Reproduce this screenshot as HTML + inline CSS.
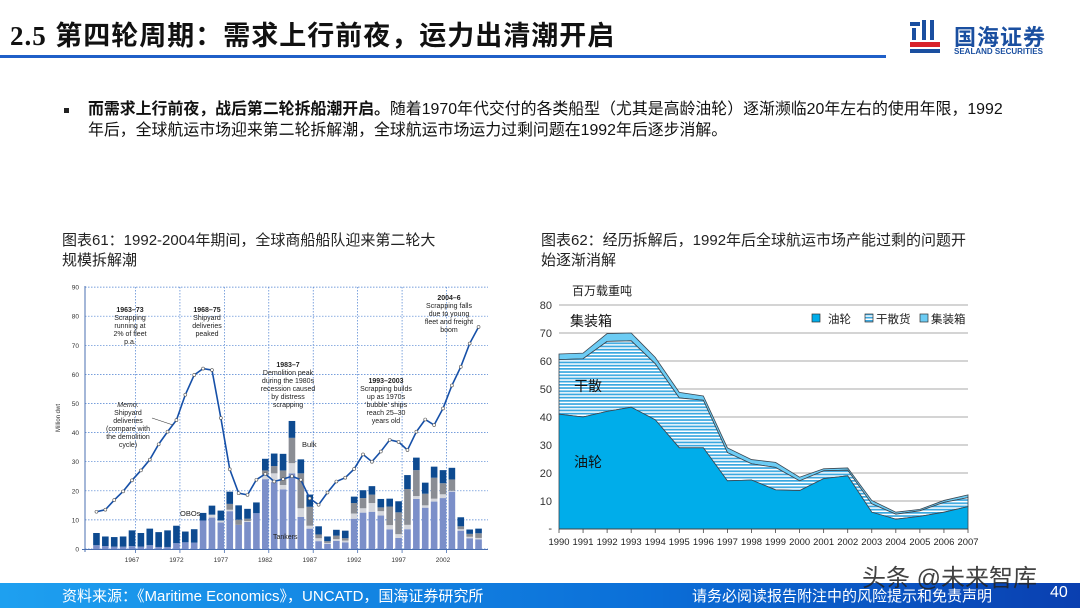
<!DOCTYPE html>
<html><head><meta charset="utf-8">
<style>
body{margin:0;width:1080px;height:608px;overflow:hidden;background:#fff;position:relative;font-family:"Liberation Sans","Noto Sans CJK SC",sans-serif;}
.abs{position:absolute;}
</style></head>
<body>
<div class="abs" style="left:10px;top:14px;font-size:27px;font-weight:bold;color:#111;white-space:nowrap;letter-spacing:1px"><span style="font-family:'Liberation Serif',serif">2.5</span> 第四轮周期：需求上行前夜，运力出清潮开启</div>
<div class="abs" style="left:0;top:55px;width:886px;height:3px;background:#1f5fc8"></div>
<div class="abs" style="left:908px;top:18px;width:160px;height:42px">
 <svg width="34" height="40" style="position:absolute;left:0;top:0">
  <rect x="2" y="4" width="10" height="4" fill="#1a4fa0"/><rect x="4" y="10" width="4" height="12" fill="#1a4fa0"/>
  <rect x="14" y="2" width="4" height="20" fill="#1a4fa0"/><rect x="22" y="2" width="4" height="20" fill="#1a4fa0"/>
  <rect x="2" y="24" width="30" height="5" fill="#d8232a"/><rect x="2" y="31" width="30" height="4" fill="#1a4fa0"/>
 </svg>
 <div class="abs" style="left:46px;top:2px;font-size:22px;font-weight:bold;color:#1a4fa0;letter-spacing:1px">国海证券</div>
 <div class="abs" style="left:46px;top:29px;font-size:8px;font-weight:bold;color:#1a4fa0">SEALAND SECURITIES</div>
</div>

<div class="abs" style="left:64px;top:108px;width:5px;height:5px;background:#222"></div>
<div class="abs" style="left:88px;top:99px;width:990px;font-size:15.9px;line-height:21px;color:#111;white-space:nowrap"><b>而需求上行前夜，战后第二轮拆船潮开启。</b>随着1970年代交付的各类船型（尤其是高龄油轮）逐渐濒临20年左右的使用年限，1992<br>年后，全球航运市场迎来第二轮拆解潮，全球航运市场运力过剩问题在1992年后逐步消解。</div>

<div class="abs" style="left:62px;top:231px;width:420px;font-size:15px;line-height:20px;color:#222">图表61：1992-2004年期间，全球商船船队迎来第二轮大<br>规模拆解潮</div>
<div class="abs" style="left:541px;top:231px;width:470px;font-size:15px;line-height:20px;color:#222">图表62：经历拆解后，1992年后全球航运市场产能过剩的问题开<br>始逐渐消解</div>

<svg id="c1" class="abs" style="left:0;top:0" width="1080" height="608"></svg>

<div class="abs" style="left:0;top:583px;width:1080px;height:25px;background:linear-gradient(90deg,#1ea0f0,#0b6fd8 60%,#0a3fb0)"></div>
<div class="abs" style="left:62px;top:585px;font-size:15px;color:#fff;white-space:nowrap">资料来源：《Maritime Economics》，UNCATD，国海证券研究所</div>
<div class="abs" style="left:692px;top:585px;font-size:15px;color:#fff;white-space:nowrap">请务必阅读报告附注中的风险提示和免责声明</div>
<div class="abs" style="left:1050px;top:584px;font-size:16px;color:#fff">40</div>
<div class="abs" style="left:862px;top:558px;font-size:24px;color:#222;opacity:.85;white-space:nowrap">头条 @未来智库</div>

<script>
// ---- chart 61 data ----
const years61=[1963,1964,1965,1966,1967,1968,1969,1970,1971,1972,1973,1974,1975,1976,1977,1978,1979,1980,1981,1982,1983,1984,1985,1986,1987,1988,1989,1990,1991,1992,1993,1994,1995,1996,1997,1998,1999,2000,2001,2002,2003,2004,2005,2006];
const tankers=[1.3,1,0.8,0.8,1,0.8,1.3,0.7,0.7,2,2.3,2.2,9.8,10.8,9.1,13,8.3,9.3,12.3,24,23,20.5,26,11,7,2.7,1.8,2.8,2.3,10.4,12.5,12.8,11.5,6.7,3.8,6.8,17.2,14.2,16.3,17.5,19.7,6.3,3.7,3.3];
const obos=[0,0,0,0,0,0,0,0,0,0,0,0,0,1,0.7,0.5,0,0.3,0,1.5,3,1.5,3.5,3,1,1,0.3,0.6,0.6,1.8,1.5,3,1.5,1.5,1.3,1.5,1,0.8,1,1.3,0.3,0.5,0.5,0.5];
const bulk=[0,0,0,0,0,0,0,0,0,0,0,0,0,0,0,2,1.8,0.8,0,1.5,2.5,5,8.7,12,6.5,1.3,0.6,1.2,0.8,3.6,3.5,2.9,1.3,6.4,7.5,12.3,8.9,4,7.2,3.8,3.9,1,1,1.6];
const other=[4.2,3.3,3.3,3.5,5.4,4.7,5.7,5.1,5.7,6,3.7,4.6,2.6,3.1,3.4,4.2,4.9,3.4,3.7,4,4.3,5.7,5.8,4.8,4.2,2.8,1.6,2,2.6,2.2,2.7,2.9,2.9,2.7,3.8,4.8,4.3,3.8,3.8,4.5,4,3.1,1.5,1.6];
const deliveries=[12.8,13.5,16.8,19.8,23.6,27,30.7,36,40.3,44.3,53,59.8,62,61.5,45,27.4,19.2,18.6,23.8,25.8,23.2,24,25,23.8,17.4,15.2,19.4,23.2,24.5,27.5,32.5,30,33.5,37.5,36.8,34,40.3,44.5,42.6,48.3,56.2,62.6,70.6,76.3];
const yTicks61=[0,10,20,30,40,50,60,70,80,90];
const xTicks61=[1967,1972,1977,1982,1987,1992,1997,2002];
// ---- chart 62 data ----
const years62=[1990,1991,1992,1993,1994,1995,1996,1997,1998,1999,2000,2001,2002,2003,2004,2005,2006,2007];
const tanker62=[41,40,42,43.5,39,29,29,17.2,17.5,14,13.7,18,19,6,3.5,4.5,6,8];
const drybulk62=[19.5,20.8,25,23.7,20,17.8,17,10.1,5.8,8,3.5,2.8,2,3,1.8,2,3.5,3.2];
const container62=[2,2,2.8,2.8,2.3,2,1.5,1.7,1.5,1.8,1.3,0.7,0.8,1.2,0.7,0.5,0.7,1];
const yTicks62=[10,20,30,40,50,60,70,80];

const NS='http://www.w3.org/2000/svg';
const svg=document.getElementById('c1');
function mk(tag,attrs,parent,text){const e=document.createElementNS(NS,tag);for(const k in attrs)e.setAttribute(k,attrs[k]);if(text!==undefined)e.textContent=text;(parent||svg).appendChild(e);return e;}

const defs=mk('defs',{});
const pat=mk('pattern',{id:'hatch',width:4,height:3.2,patternUnits:'userSpaceOnUse'},defs);
mk('rect',{width:4,height:3.2,fill:'#fff'},pat);
mk('rect',{y:0,width:4,height:1.7,fill:'#3aa8e0'},pat);

// ===== chart 61 =====
const x1=y=>132+(y-1967)*8.886;
const y1=v=>549-v*2.91;
const g1=mk('g',{});


yTicks61.forEach(t=>{
 const l=mk('line',{x1:85,x2:488,y1:y1(t),y2:y1(t),stroke:'#4a7fd0','stroke-width':0.7,'stroke-dasharray':'1.5,1.5'},g1);
 
 
 const tx=mk('text',{x:79,y:y1(t)+2.5,'font-size':6.5,'text-anchor':'end',fill:'#333'},g1,String(t));
 
 
});
xTicks61.forEach(t=>{
 const xx=x1(t)+3.5;
 const l=mk('line',{x1:xx,x2:xx,y1:287,y2:549,stroke:'#4a7fd0','stroke-width':0.7,'stroke-dasharray':'1.5,1.5'},g1);
 
 
 mk('line',{x1:xx,x2:xx,y1:549,y2:553,stroke:'#4a6fb0','stroke-width':0.8},g1);
 const tx=mk('text',{x:x1(t),y:562,'font-size':6.5,'text-anchor':'middle',fill:'#333'},g1,String(t));
 
 
});
mk('line',{x1:85,x2:85,y1:286,y2:552,stroke:'#4a6fb0','stroke-width':1},g1);
mk('line',{x1:82,x2:488,y1:549.5,y2:549.5,stroke:'#4a6fb0','stroke-width':1},g1);
const yl=mk('text',{x:60,y:418,'font-size':6,fill:'#333','text-anchor':'middle',transform:'rotate(-90 60 418)'},g1,'Million dwt');


const cols=['#7b8fc9','#d4d6dc','#8a8d94','#0d4a90'];
years61.forEach((yr,i)=>{
 let base=0;
 [tankers[i],obos[i],bulk[i],other[i]].forEach((v,k)=>{
  const r=mk('rect',{x:x1(yr)-3.3,y:y1(base+v),width:6.6,height:Math.max(0,y1(base)-y1(base+v)),fill:cols[k]},g1);
  
  
  base+=v;
 });
});
const pts=years61.map((yr,i)=>x1(yr)+','+y1(deliveries[i])).join(' ');
const pl=mk('polyline',{points:pts,fill:'none',stroke:'#1650a8','stroke-width':1.6},g1);


years61.forEach((yr,i)=>{
 const c=mk('circle',{cx:x1(yr),cy:y1(deliveries[i]),r:1.5,fill:'#fff',stroke:'#555','stroke-width':0.6},g1);
 
 
});
function anno(x,y,lines,boldFirst){lines.forEach((s,j)=>{const t=mk('text',{x:x,y:y+j*8,'font-size':7,'text-anchor':'middle',fill:'#222','font-weight':(boldFirst&&j==0)?'bold':'normal','font-style':s==='Memo:'?'italic':'normal'},g1,s);});}
anno(130,312,['1963–73','Scrapping','running at','2% of fleet','p.a.'],true);
anno(207,312,['1968–75','Shipyard','deliveries','peaked'],true);
anno(288,367,['1983–7','Demolition peak','during the 1980s','recession caused','by distress','scrapping'],true);
anno(386,383,['1993–2003','Scrapping builds','up as 1970s','‘bubble’ ships','reach 25–30','years old'],true);
anno(449,300,['2004–6','Scrapping falls','due to young','fleet and freight','boom'],true);
anno(128,407,['Memo:','Shipyard','deliveries','(compare with','the demolition','cycle)'],false);
mk('line',{x1:152,y1:418,x2:173,y2:425,stroke:'#333','stroke-width':0.6},g1);
mk('text',{x:180,y:516,'font-size':7.5,fill:'#222'},g1,'OBOs');
mk('text',{x:302,y:447,'font-size':7.5,fill:'#222'},g1,'Bulk');
mk('text',{x:273,y:539,'font-size':7,fill:'#222'},g1,'Tankers');

// ===== chart 62 =====
const x2=y=>559+(y-1990)*(409/17);
const y2=v=>529-v*2.8;
const g2=mk('g',{});


yTicks62.forEach(t=>{
 const l=mk('line',{x1:559,x2:968,y1:y2(t),y2:y2(t),stroke:'#aaa','stroke-width':1},g2);
 
 
 const tx=mk('text',{x:552,y:y2(t)+4,'font-size':11,'text-anchor':'end',fill:'#333'},g2,String(t));
 
 
});
mk('text',{x:552,y:532,'font-size':11,'text-anchor':'end',fill:'#333'},g2,'-');
const cum1=tanker62, cum2=tanker62.map((v,i)=>v+drybulk62[i]), cum3=cum2.map((v,i)=>v+container62[i]);
function area(top,bot,fill,name){
 let d='M'+years62.map((yr,i)=>x2(yr)+','+y2(top[i])).join('L');
 for(let i=years62.length-1;i>=0;i--)d+='L'+x2(years62[i])+','+y2(bot?bot[i]:0);
 const p=mk('path',{d:d+'Z',fill:fill,stroke:'#3c4650','stroke-width':0.8},g2);
 
 
}
area(cum3,cum2,'#6cccf4','chart62-area-container');
area(cum2,cum1,'url(#hatch)','chart62-area-drybulk');
area(cum1,null,'#00adea','chart62-area-tanker');
mk('line',{x1:559,x2:968,y1:529,y2:529,stroke:'#444','stroke-width':1},g2);
years62.forEach(yr=>{
 mk('line',{x1:x2(yr),x2:x2(yr),y1:529,y2:533,stroke:'#444','stroke-width':0.8},g2);
 const tx=mk('text',{x:x2(yr),y:545,'font-size':9.5,'text-anchor':'middle',fill:'#222',textLength:21,lengthAdjust:'spacingAndGlyphs'},g2,String(yr));
 
 
});
const ut=mk('text',{x:572,y:295,'font-size':12,fill:'#222'},g2,'百万载重吨');


mk('text',{x:570,y:326,'font-size':14,fill:'#111'},g2,'集装箱');
mk('text',{x:574,y:391,'font-size':14,fill:'#111'},g2,'干散');
mk('text',{x:574,y:467,'font-size':14,fill:'#111'},g2,'油轮');
const leg=[['#00adea','油轮',812],['url(#hatch)','干散货',865],['#6cccf4','集装箱',920]];
leg.forEach(([f,t,x])=>{
 const r=mk('rect',{x:x,y:314,width:8,height:8,fill:f,stroke:'#333','stroke-width':0.7},g2);
 
 
 const tx=mk('text',{x:x+(t==='油轮'?16:11),y:323,'font-size':11.5,fill:'#222'},g2,t);
 
 
});
</script>
</body></html>
